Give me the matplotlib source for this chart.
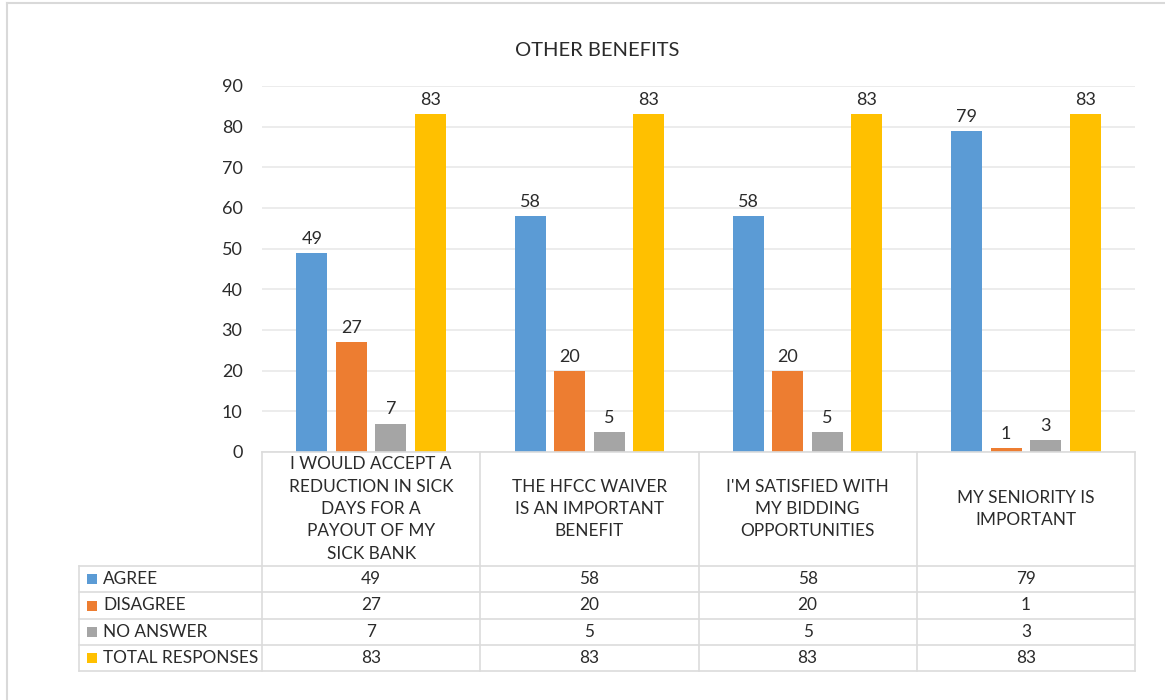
import matplotlib
matplotlib.use("Agg")
import matplotlib.pyplot as plt
import matplotlib.transforms as mtransforms
from matplotlib.patches import Rectangle
from matplotlib.lines import Line2D
import numpy as np

plt.rcParams['font.family'] = ['Lato', 'DejaVu Sans']

title = "OTHER BENEFITS"
categories = [
    "I WOULD ACCEPT A\nREDUCTION IN SICK\nDAYS FOR A\nPAYOUT OF MY\nSICK BANK",
    "THE HFCC WAIVER\nIS AN IMPORTANT\nBENEFIT",
    "I'M SATISFIED WITH\nMY BIDDING\nOPPORTUNITIES",
    "MY SENIORITY IS\nIMPORTANT",
]
series_names = ["AGREE", "DISAGREE", "NO ANSWER", "TOTAL RESPONSES"]
agree = [49, 58, 58, 79]
disagree = [27, 20, 20, 1]
no_answer = [7, 5, 5, 3]
total = [83, 83, 83, 83]
colors = ["#5B9BD5", "#ED7D31", "#A5A5A5", "#FFC000"]
yticks = [0, 10, 20, 30, 40, 50, 60, 70, 80, 90]

series = [agree, disagree, no_answer, total]

W, H = 1165, 700
fig = plt.figure(figsize=(W / 100, H / 100), dpi=100)

def fx(px):
    return px / W

def fy(py):
    return 1 - py / H

txt_c = '#2b2b2b'
fs = 12.4

ax = fig.add_axes([fx(262), fy(452), fx(1135) - fx(262), fy(86) - fy(452)])
x = np.arange(len(categories))
step = 0.181
width = 0.143
for i, (vals, c) in enumerate(zip(series, colors)):
    pos = x + (i - 1.5) * step
    bars = ax.bar(pos, vals, width=width, color=c, zorder=3)
    for b, v in zip(bars, vals):
        ax.text(b.get_x() + b.get_width() / 2, v + 1.5, str(v), ha='center', va='bottom',
                fontsize=13, color=txt_c)

ax.set_xlim(-0.5, len(categories) - 0.5)
ax.set_ylim(0, 90)
ax.set_yticks(yticks)
ax.set_yticklabels([str(t) for t in yticks], fontsize=13, color=txt_c)
ax.tick_params(axis='y', length=0, pad=14)
ax.tick_params(axis='x', length=0, labelbottom=False)
ax.grid(axis='y', color='#E9E9E9', linewidth=1.2, zorder=0)
for s in ax.spines.values():
    s.set_visible(False)

# Title
fig.text(fx(597), fy(50), title, ha='center', va='center', fontsize=14.5, color=txt_c)

# Data table
line_c = '#DCDCDC'
blend = mtransforms.blended_transform_factory(ax.transData, fig.transFigure)
row_lines = [566, 592, 619, 645, 671]
fig.add_artist(Line2D([fx(262), fx(1135)], [fy(452), fy(452)], color=line_c, lw=1.2))
for ry in row_lines:
    fig.add_artist(Line2D([fx(79), fx(1135)], [fy(ry), fy(ry)], color=line_c, lw=1.2))
fig.add_artist(Line2D([fx(79), fx(79)], [fy(566), fy(671)], color=line_c, lw=1.2))
for k in range(len(categories) + 1):
    xb = k - 0.5
    fig.add_artist(Line2D([xb, xb], [fy(452), fy(671)], color=line_c, lw=1.2, transform=blend))

for k, cat in enumerate(categories):
    fig.text(k, fy(509), cat, transform=blend, ha='center', va='center', fontsize=fs,
             color=txt_c, linespacing=1.5)

for r, (name, vals, c) in enumerate(zip(series_names, series, colors)):
    yc = (row_lines[r] + row_lines[r + 1]) / 2
    fig.add_artist(Rectangle((fx(87), fy(yc + 5)), fx(97) - fx(87), fy(yc - 5) - fy(yc + 5),
                             facecolor=c, edgecolor='none', transform=fig.transFigure))
    fig.text(fx(103), fy(yc), name, ha='left', va='center', fontsize=fs, color=txt_c)
    for k, v in enumerate(vals):
        fig.text(k, fy(yc), str(v), transform=blend, ha='center', va='center', fontsize=fs,
                 color=txt_c)

fig.add_artist(Line2D([fx(7), fx(1165)], [fy(3), fy(3)], color='#D9D9D9', lw=1.5))
fig.add_artist(Line2D([fx(7), fx(7)], [fy(3), fy(700)], color='#D9D9D9', lw=1.5))

fig.savefig("out.png", dpi=100, facecolor='white')
